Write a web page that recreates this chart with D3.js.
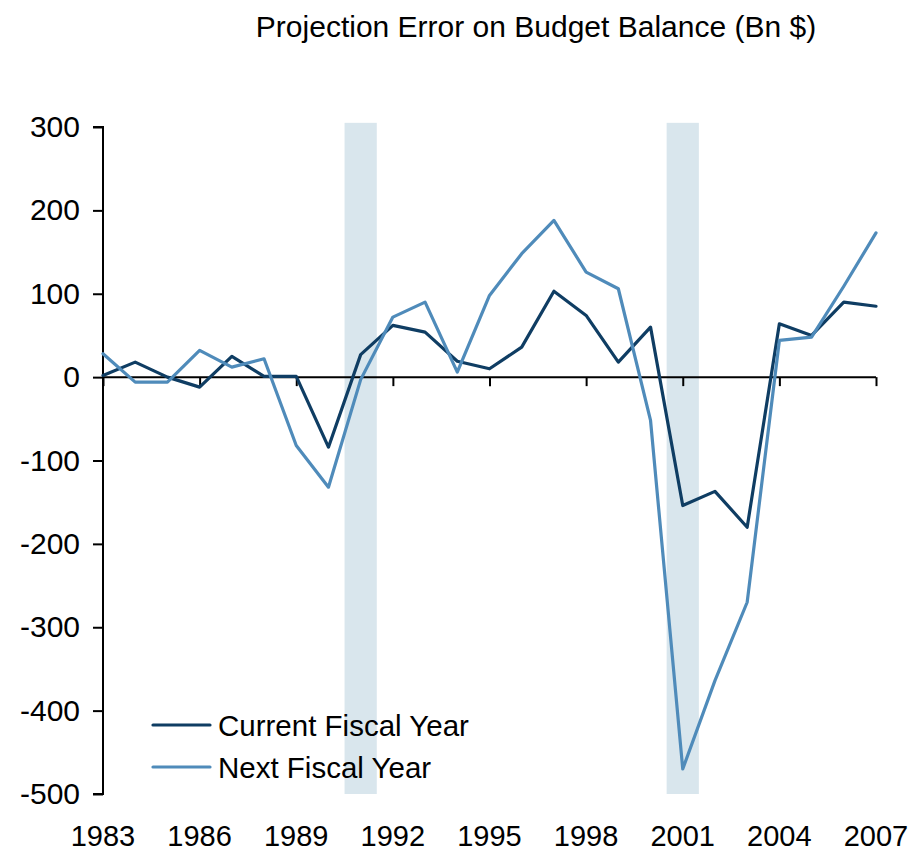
<!DOCTYPE html>
<html>
<head>
<meta charset="utf-8">
<script src="https://cdn.jsdelivr.net/npm/d3@7"></script>
<style>
  html, body { margin: 0; padding: 0; background: #fff; }
  svg { display: block; font-family: "Liberation Sans", Arial, sans-serif; }
</style>
</head>
<body>
<svg id="chart" width="912" height="852"></svg>
<script>
const years = d3.range(1983, 2008);
const currentFY = [2, 18, 0, -12, 25, 1, 1, -84, 27, 62, 54, 19, 10, 36, 103, 74, 18, 60, -154, -137, -180, 64, 50, 90, 85];
const nextFY = [28, -6, -6, 32, 12, 22, -82, -132, -3, 72, 90, 6, 98, 148, 188, 126, 106, -52, -470, -364, -270, 44, 48, 109, 173];
const recessions = [[1990.5, 1991.5], [2000.5, 2001.5]];
const yTicks = [300, 200, 100, 0, -100, -200, -300, -400, -500];
const xTicks = [1983, 1986, 1989, 1992, 1995, 1998, 2001, 2004, 2007];
const seriesNames = ["Current Fiscal Year", "Next Fiscal Year"];
const colors = ["#0f3d63", "#4f8bba"];
const title = "Projection Error on Budget Balance (Bn $)";

const svg = d3.select("#chart");
const x = d3.scaleLinear().domain([1983, 2007]).range([103, 876]);
const y = d3.scaleLinear().domain([-500, 300]).range([794, 127]);

// recession shading
svg.append("g").selectAll("rect").data(recessions).join("rect")
  .attr("x", d => x(d[0]))
  .attr("width", d => x(d[1]) - x(d[0]))
  .attr("y", y(305))
  .attr("height", y(-500) - y(305))
  .attr("fill", "#d9e6ed");

// title
svg.append("text").attr("x", 536).attr("y", 37)
  .attr("text-anchor", "middle").attr("font-size", 30)
  .attr("fill", "#000").text(title);

// y axis
const yAxis = d3.axisLeft(y).tickValues(yTicks).tickSize(10).tickPadding(13).tickFormat(d => String(d));
const gy = svg.append("g").attr("transform", `translate(${x(1983)},0)`).call(yAxis);
gy.select(".domain").attr("d", `M-10,${y(300)}H0V${y(-500)}H-10`).attr("stroke", "#000").attr("stroke-width", 2);
gy.selectAll(".tick line").attr("stroke", "#000").attr("stroke-width", 2);
gy.selectAll(".tick text").attr("font-size", 30).attr("font-family", "Liberation Sans, Arial, sans-serif").attr("fill", "#000");

// x axis at zero
const xAxis = d3.axisBottom(x).tickValues(xTicks).tickSize(9).tickFormat("");
const gx = svg.append("g").attr("transform", `translate(0,${y(0)})`).call(xAxis);
gx.select(".domain").attr("d", `M${x(1983)},0H${x(2007)}`).attr("stroke", "#000").attr("stroke-width", 2);
gx.selectAll(".tick line").attr("stroke", "#000").attr("stroke-width", 2);

// x labels at bottom
svg.append("g").selectAll("text").data(xTicks).join("text")
  .attr("x", d => x(d)).attr("y", 846)
  .attr("text-anchor", "middle").attr("font-size", 29).attr("fill", "#000")
  .text(d => d);

// lines
const line = d3.line().x((d, i) => x(years[i])).y(d => y(d));
[currentFY, nextFY].forEach((s, k) => {
  svg.append("path").datum(s).attr("d", line)
    .attr("fill", "none").attr("stroke", colors[k]).attr("stroke-width", 3.2)
    .attr("stroke-linejoin", "round").attr("stroke-linecap", "round");
});

// legend
const lg = svg.append("g");
seriesNames.forEach((n, k) => {
  const yy = 725 + k * 42;
  lg.append("line").attr("x1", 153).attr("x2", 210).attr("y1", yy).attr("y2", yy)
    .attr("stroke", colors[k]).attr("stroke-width", 3.2).attr("stroke-linecap", "round");
  lg.append("text").attr("x", 218).attr("y", yy + 11).attr("font-size", 29.5).attr("fill", "#000").text(n);
});
</script>
</body>
</html>
